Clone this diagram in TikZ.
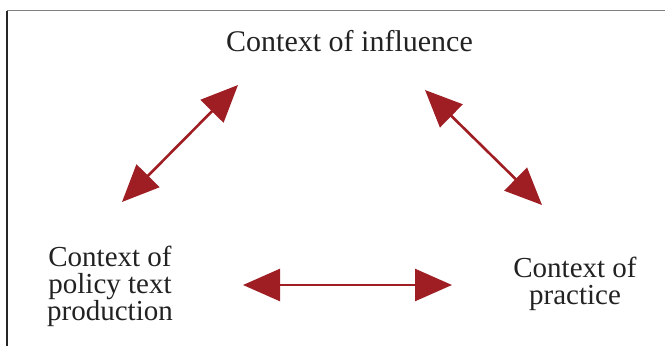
\documentclass[tikz,border=0pt]{standalone}
\usepackage{fontspec}
\setmainfont{Liberation Serif}
\usetikzlibrary{arrows.meta}
\definecolor{arrowred}{RGB}{158,30,36}
\definecolor{textdark}{RGB}{34,34,34}
\tikzset{
  ctxlabel/.style={inner sep=0pt, align=center, text=textdark,
    font=\fontsize{29}{27}\selectfont},
  biarrow/.style={draw=arrowred, line width=2.6pt,
    {Triangle[length=37pt,width=32pt,fill=arrowred]}-{Triangle[length=37pt,width=32pt,fill=arrowred]}},
  framegray/.style={draw=black!50, line width=1.5pt},
  framedark/.style={draw=black!85, line width=1.5pt}
}
\begin{document}
\begin{tikzpicture}[x=1pt,y=-1pt]
\useasboundingbox (0,0) rectangle (665,346);
% frame lines
\coordinate (fTL) at (7,10.5);
\coordinate (fTR) at (665,10.5);
\coordinate (fBL) at (7,346);
\draw[framegray] (fTL) -- (fTR);
\draw[framedark] (fTL) -- (fBL);
% labels
\node[ctxlabel, font=\fontsize{30}{27}\selectfont, anchor=base] (infl) at (349.5,51) {Context of influence};
\node[ctxlabel] (policy) at (110,286.5) {Context of\\policy text\\production};
\node[ctxlabel] (practice) at (575,284) {Context of\\practice};
% arrow ends
\coordinate (a1s) at (122,202);
\coordinate (a1e) at (238,85);
\coordinate (a2s) at (425,90);
\coordinate (a2e) at (542,205);
\coordinate (a3s) at (243,285);
\coordinate (a3e) at (452,285);
\draw[biarrow] (a1s) -- (a1e);
\draw[biarrow] (a2s) -- (a2e);
\draw[biarrow] (a3s) -- (a3e);
\end{tikzpicture}
\end{document}
